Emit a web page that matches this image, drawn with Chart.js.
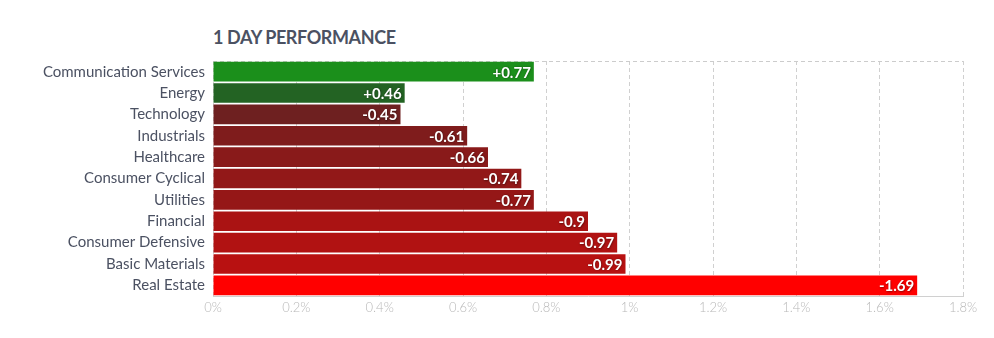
<!DOCTYPE html>
<html>
<head>
<meta charset="utf-8">
<script src="https://cdn.jsdelivr.net/npm/chart.js@4.4.1/dist/chart.umd.min.js"></script>
<style>
  html, body { margin: 0; padding: 0; background: #fff; }
  #wrap { position: relative; width: 994px; height: 338px; }
  #title { position: absolute; left: 213px; top: 26px; font-family: Lato, sans-serif; font-weight: bold; font-size: 18px; color: #4b5162; letter-spacing: -0.4px; }
  canvas { position: absolute; left: 0; top: 0; }
</style>
</head>
<body>
<div id="wrap">
  <div id="title">1 DAY PERFORMANCE</div>
  <canvas id="c" width="994" height="338"></canvas>
</div>
<script>
const categories = ['Communication Services','Energy','Technology','Industrials','Healthcare','Consumer Cyclical','Utilities','Financial','Consumer Defensive','Basic Materials','Real Estate'];
const changes = [0.77, 0.46, -0.45, -0.61, -0.66, -0.74, -0.77, -0.9, -0.97, -0.99, -1.69];
const barColors = ['#1b8f1b','#236323','#6e2020','#7f1c1c','#891a1a','#921818','#951717','#aa1313','#b11212','#b81111','#ff0000'];
const xTicks = [0, 0.2, 0.4, 0.6, 0.8, 1, 1.2, 1.4, 1.6, 1.8];
const tickLabels = ['0%','0.2%','0.4%','0.6%','0.8%','1%','1.2%','1.4%','1.6%','1.8%'];

const magnitudes = changes.map(v => Math.abs(v));
const labelText = changes.map(v => (v > 0 ? '+' : '') + v);

const valueLabels = {
  id: 'valueLabels',
  afterDatasetsDraw(chart) {
    const ctx = chart.ctx;
    const meta = chart.getDatasetMeta(0);
    ctx.save();
    ctx.font = 'bold 15px Lato, sans-serif';
    ctx.fillStyle = '#ffffff';
    ctx.textAlign = 'right';
    ctx.textBaseline = 'middle';
    ctx.shadowColor = 'rgba(0,0,0,0.45)';
    ctx.shadowBlur = 2;
    ctx.shadowOffsetX = 0.5;
    ctx.shadowOffsetY = 0.5;
    meta.data.forEach((bar, i) => {
      ctx.fillText(labelText[i], bar.x - 3, bar.y + 1);
    });
    ctx.restore();
  }
};

const topBorder = {
  id: 'topBorder',
  beforeDatasetsDraw(chart) {
    const a = chart.chartArea;
    const ctx = chart.ctx;
    ctx.save();
    ctx.strokeStyle = '#cccccc';
    ctx.lineWidth = 1;
    ctx.setLineDash([4, 3]);
    ctx.beginPath();
    ctx.moveTo(a.left, Math.round(a.top) + 0.5);
    ctx.lineTo(a.right, Math.round(a.top) + 0.5);
    ctx.stroke();
    ctx.restore();
  }
};

new Chart(document.getElementById('c'), {
  type: 'bar',
  data: {
    labels: categories,
    datasets: [{
      data: magnitudes,
      backgroundColor: barColors,
      borderWidth: 0,
      barPercentage: 0.92,
      categoryPercentage: 1
    }]
  },
  options: {
    indexAxis: 'y',
    responsive: false,
    animation: false,
    layout: { padding: { top: 61, right: 31, bottom: 0, left: 0 } },
    plugins: { legend: { display: false }, tooltip: { enabled: false }, title: { display: false } },
    scales: {
      x: {
        min: 0, max: 1.8,
        afterBuildTicks(scale) { scale.ticks = xTicks.map(v => ({ value: v })); },
        afterFit(scale) { scale.height = 42; },
        ticks: {
          callback: (v, i) => tickLabels[i],
          color: '#b8b8b8',
          font: { family: 'Lato, sans-serif', size: 13, weight: 300 },
          padding: 4,
          maxRotation: 0,
          autoSkip: false
        },
        grid: { color: '#d0d0d0', drawTicks: false, lineWidth: 1 },
        border: { display: true, color: '#d0d0d0', dash: [4, 3] }
      },
      y: {
        afterFit(scale) { scale.width = 213; },
        ticks: {
          color: '#4b5162',
          font: { family: 'Lato, sans-serif', size: 15, lineHeight: 1.2 },
          padding: 8,
          autoSkip: false
        },
        grid: { display: false, drawTicks: false },
        border: { display: false }
      }
    }
  },
  plugins: [valueLabels, topBorder]
});
</script>
</body>
</html>
